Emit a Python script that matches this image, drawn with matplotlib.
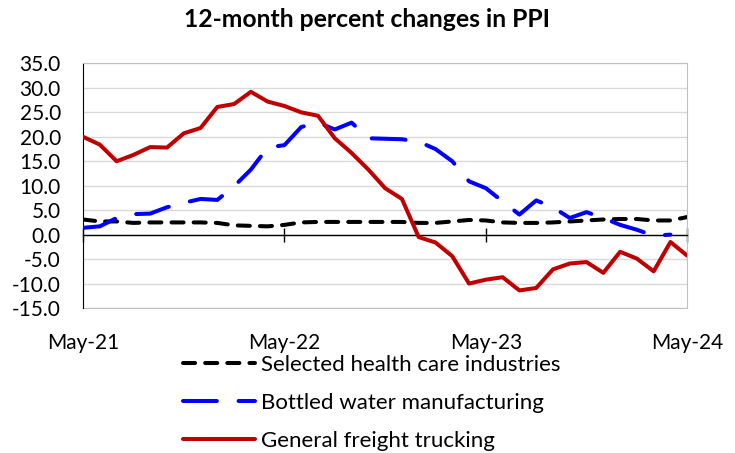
import matplotlib.pyplot as plt
import numpy as np

plt.rcParams["font.family"] = ["Lato", "DejaVu Sans"]

months = ["May-21", "", "", "", "", "", "", "", "", "", "", "",
          "May-22", "", "", "", "", "", "", "", "", "", "", "",
          "May-23", "", "", "", "", "", "", "", "", "", "", "",
          "May-24"]
tick_labels = ["May-21", "May-22", "May-23", "May-24"]

health_care = [3.1, 2.7, 2.7, 2.4, 2.5, 2.5, 2.5, 2.5, 2.4, 1.9, 1.8, 1.7,
               2.0, 2.5, 2.6, 2.6, 2.6, 2.6, 2.6, 2.6, 2.4, 2.4, 2.7, 3.0,
               2.9, 2.5, 2.4, 2.4, 2.5, 2.7, 2.9, 3.1, 3.2, 3.2, 2.9, 2.9,
               3.6]
bottled_water = [1.4, 1.7, 3.4, 4.2, 4.3, 5.6, 6.5, 7.3, 7.1, 9.9, 13.3, 17.8,
                 18.3, 22.0, 22.9, 21.5, 22.9, 19.7, 19.6, 19.5, 19.0, 17.5, 15.0, 10.9,
                 9.5, 6.8, 4.1, 7.0, 5.6, 3.4, 4.6, 3.4, 2.0, 1.0, -0.2, 0.0,
                 np.nan]
freight_trucking = [20.0, 18.4, 15.0, 16.3, 17.9, 17.8, 20.7, 21.8, 26.1, 26.7, 29.2, 27.2,
                    26.3, 25.0, 24.3, 19.7, 16.7, 13.3, 9.5, 7.3, -0.5, -1.6, -4.4, -10.0,
                    -9.2, -8.7, -11.4, -10.9, -7.1, -5.9, -5.6, -7.8, -3.5, -4.9, -7.5, -1.5,
                    -4.3]

x = np.arange(len(months))

fig = plt.figure(figsize=(7.35, 4.53), dpi=100)
ax = fig.add_axes([0.113, 0.32, 0.822, 0.54])

ax.plot(x, health_care, color="black", lw=2.9, dashes=(3.0, 2.5),
        dash_capstyle="round", label="Selected health care industries", zorder=3)
ax.plot(x, bottled_water, color="#0000FF", lw=2.9, dashes=(8.4, 5.4),
        dash_capstyle="round", label="Bottled water manufacturing", zorder=3)
ax.plot(x, freight_trucking, color="#C00000", lw=2.9, solid_capstyle="round",
        label="General freight trucking", zorder=4)

ax.set_xlim(0, 36)
ax.set_ylim(-15, 35)
ax.set_yticks(np.arange(-15, 36, 5))
ax.set_yticklabels([f"{v:.1f}" for v in np.arange(-15, 36, 5)], fontsize=15)
ax.tick_params(axis="y", length=0, pad=16)
ax.yaxis.grid(True, color="#D9D9D9", lw=1)
ax.set_axisbelow(True)

# zero axis with crossing ticks
ax.spines["bottom"].set_position(("data", 0))
ax.spines["bottom"].set_color("black")
ax.spines["bottom"].set_linewidth(1)
ax.set_xticks([0, 12, 24, 36])
ax.tick_params(axis="x", direction="inout", length=10, width=1, labelbottom=False)
ax.spines["left"].set_color("black")
ax.spines["top"].set_color("#BFBFBF")
ax.spines["right"].set_color("#BFBFBF")

sec = ax.secondary_xaxis("bottom")
sec.set_xticks([0, 12, 24, 36])
sec.set_xticklabels(tick_labels, fontsize=15)
sec.tick_params(length=0, pad=18)
sec.spines["bottom"].set_color("#BFBFBF")

fig.suptitle("12-month percent changes in PPI", fontsize=17.8, fontweight="bold", y=0.982)

fig.legend(loc="upper left", bbox_to_anchor=(0.249, 0.216), bbox_transform=fig.transFigure,
           frameon=False, fontsize=16, handlelength=3.25, handletextpad=0.27,
           labelspacing=0.8, borderpad=0, borderaxespad=0)

fig.savefig("out.png", dpi=100)
